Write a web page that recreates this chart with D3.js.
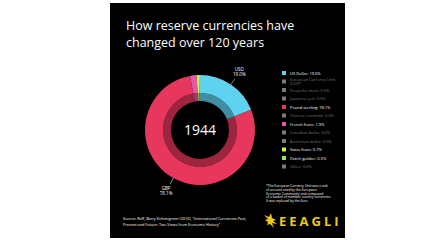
<!DOCTYPE html>
<html lang="en">
<head>
  <meta charset="UTF-8">
  <title>How reserve currencies have changed over 120 years</title>
  <script src="https://d3js.org/d3.v7.min.js"></script>
  <style>
    body {
      margin: 0;
      background: #fff;
      font-family: "Open Sans", sans-serif;
    }
  </style>
</head>
<body>
  <svg class="chart" width="426" height="240"></svg>
  <script>
    const year = "1944";
    const currencies = ["US Dollar", "European Currency Unit", "Deutsche mark", "Japanese yen",
      "Pound sterling", "Chinese renminbi", "French franc", "Canadian dollar",
      "Australian dollar", "Swiss franc", "Dutch guilder", "Other"];
    const codes = ["USD", "ECU", "DEM", "JPY", "GBP", "CNY", "FRF", "CAD", "AUD", "CHF", "NLG", "OTH"];
    const shares = [19.0, 0.0, 0.0, 0.0, 78.1, 0.0, 1.9, 0.0, 0.0, 0.7, 0.3, 0.0];
    const colors = ["#5fd2ef", "#7a7a7a", "#7a7a7a", "#7a7a7a", "#e8375c", "#7a7a7a",
      "#e05aa6", "#7a7a7a", "#7a7a7a", "#d6ef3c", "#96e866", "#7a7a7a"];
    const footnote = ["*The European Currency Unit was a unit", "of account used by the European",
      "Economic Community and composed", "of a basket of member country currencies.",
      "It was replaced by the Euro."];
    const source = ["Source: Reff, Barry Eichengreen (2016), \"International Currencies Past,",
      "Present and Future: Two Views from Economic History\""];

    const svg = d3.select(".chart");

    // black card
    svg.append("rect")
      .attr("x", 110).attr("y", 3)
      .attr("width", 235).attr("height", 235)
      .attr("fill", "#000");

    svg.append("text")
      .attr("x", 126).attr("y", 30)
      .attr("fill", "#fff")
      .style("font-size", "12.5px")
      .text("How reserve currencies have");
    svg.append("text")
      .attr("x", 126).attr("y", 47)
      .attr("fill", "#fff")
      .style("font-size", "12.5px")
      .text("changed over 120 years");

    // donut
    const cx = 200, cy = 130;
    const pie = d3.pie().sort(null).value(d => d.value);
    const data = pie(currencies.map((c, i) => ({ name: c, code: codes[i], value: shares[i], color: colors[i] })));

    const outerArc = d3.arc().innerRadius(37).outerRadius(55);
    const innerArc = d3.arc().innerRadius(29).outerRadius(37);

    const g = svg.append("g").attr("transform", `translate(${cx},${cy})`);

    g.selectAll(".outer")
      .data(data)
      .enter()
      .append("path")
      .attr("class", "outer")
      .attr("d", outerArc)
      .attr("fill", d => d.data.color);

    g.selectAll(".inner")
      .data(data)
      .enter()
      .append("path")
      .attr("class", "inner")
      .attr("d", innerArc)
      .attr("fill", d => d.data.color)
      .attr("opacity", 0.68);

    g.append("text")
      .attr("y", 5)
      .attr("text-anchor", "middle")
      .attr("fill", "#fff")
      .style("font-size", "14px")
      .text(year);

    // slice labels for the big slices
    const big = data.filter(d => d.data.value > 10);
    const arcAt = r => d3.arc().innerRadius(r).outerRadius(r);
    big.forEach(d => {
      const p1 = arcAt(55).centroid(d);
      const p2 = arcAt(62).centroid(d);
      const p3 = arcAt(70).centroid(d);
      g.append("line")
        .attr("x1", p1[0]).attr("y1", p1[1])
        .attr("x2", p2[0]).attr("y2", p2[1])
        .attr("stroke", "#ddd").attr("stroke-width", 0.6);
      const t = g.append("text")
        .attr("text-anchor", "middle")
        .attr("fill", "#fff")
        .style("font-size", "4.5px");
      t.append("tspan").attr("x", p3[0]).attr("y", p3[1] - 1.5).text(d.data.code);
      t.append("tspan").attr("x", p3[0]).attr("y", p3[1] + 4).text(d.data.value.toFixed(1) + "%");
    });

    // legend
    const legend = svg.append("g");
    currencies.forEach((c, i) => {
      const y = 73 + 8.5 * i;
      const on = shares[i] > 0;
      legend.append("rect")
        .attr("x", 282).attr("y", y - 2)
        .attr("width", 4).attr("height", 4)
        .attr("fill", colors[i]);
      const label = `${c}: ${shares[i].toFixed(1)}%`;
      const t = legend.append("text")
        .attr("fill", on ? "#fff" : "#777")
        .style("font-size", "4px");
      if (codes[i] === "ECU") {
        t.append("tspan").attr("x", 290).attr("y", y - 0.8).text(c + ":");
        t.append("tspan").attr("x", 290).attr("y", y + 3.8).text(shares[i].toFixed(1) + "%*");
      } else {
        t.append("tspan").attr("x", 290).attr("y", y + 1.5).text(label);
      }
    });

    // footnote
    footnote.forEach((line, i) => {
      svg.append("text")
        .attr("x", 266).attr("y", 187 + 3.8 * i)
        .attr("fill", "#fff")
        .style("font-size", "3.3px")
        .text(line);
    });

    source.forEach((line, i) => {
      svg.append("text")
        .attr("x", 123).attr("y", 220 + 5.5 * i)
        .attr("fill", "#fff")
        .style("font-size", "3.8px")
        .text(line);
    });

    // logo
    const logo = svg.append("g").attr("transform", "translate(264,213)");
    logo.append("path")
      .attr("d", "M0,2 L5,4 L7,0 L8,5 L12,7 L9,8 L13,11 L8,10 L10,15 L6,11 L3,12 L4,9 L1,7 L4,6 Z")
      .attr("fill", "#ecc81e");
    svg.append("text")
      .attr("x", 279).attr("y", 226)
      .attr("fill", "#ecc81e")
      .style("font-size", "13px")
      .style("font-weight", "bold")
      .style("letter-spacing", "3px")
      .text("EEAGLI");
  </script>
</body>
</html>
